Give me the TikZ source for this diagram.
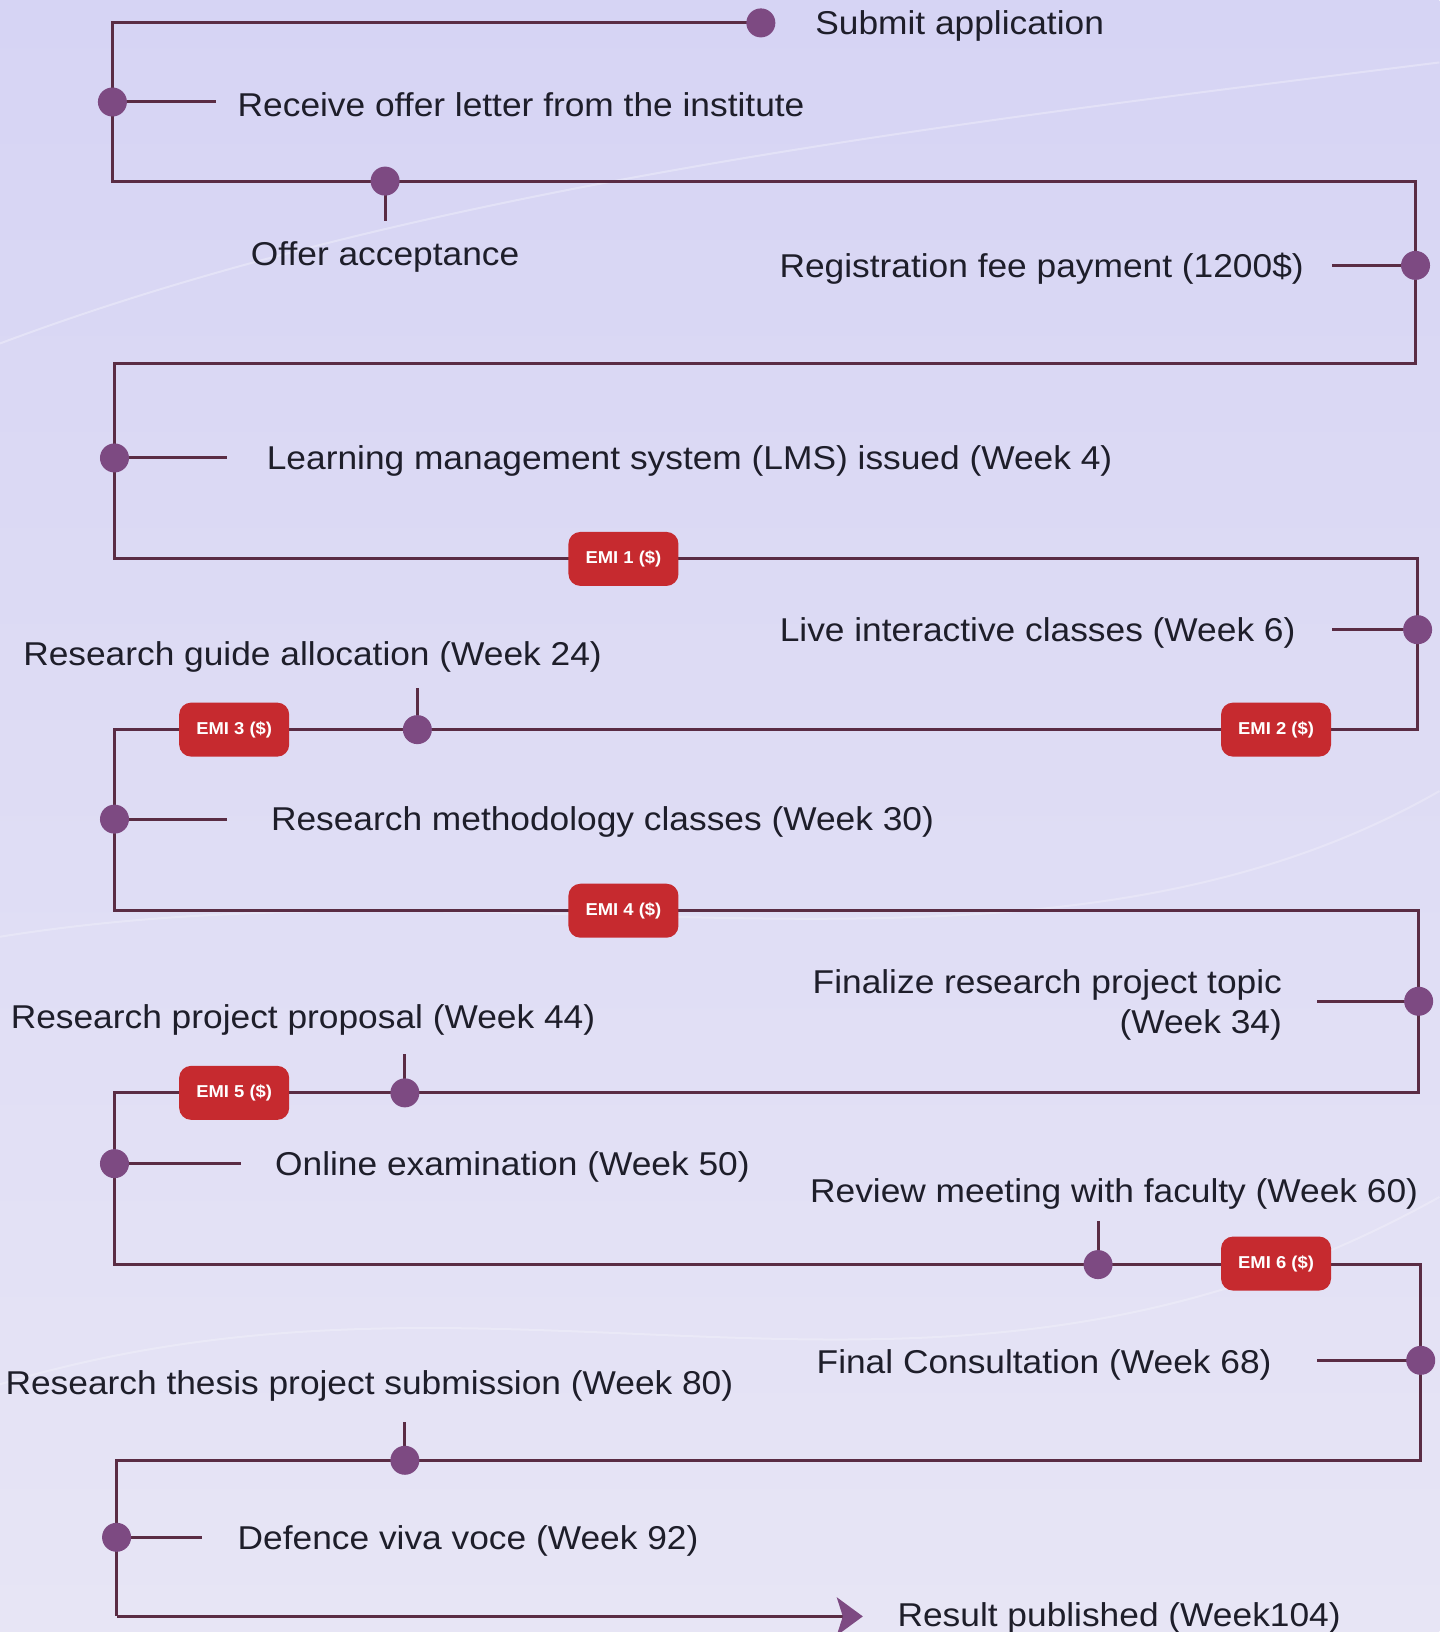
\documentclass[tikz,border=0pt]{standalone}
\usepackage{fontspec}
\setmainfont{Liberation Sans}[FakeStretch=1.07]
\usetikzlibrary{arrows.meta}
\definecolor{bgtop}{HTML}{D6D4F4}
\definecolor{bgbot}{HTML}{E7E5F5}
\definecolor{linec}{HTML}{5A2C44}
\definecolor{dotc}{HTML}{7D4A82}
\definecolor{emic}{HTML}{C62A2F}
\definecolor{txtc}{HTML}{1E1E2A}
\tikzset{
  flow/.style={draw=linec, line width=1.5pt, line join=miter},
  dotn/.style={circle, fill=dotc, inner sep=0pt, minimum size=14.5pt},
  emi/.style={rectangle, rounded corners=6pt, fill=emic, text=white, font=\bfseries\fontsize{8.6}{10}\selectfont, minimum width=55pt, minimum height=27pt, inner sep=0pt},
  lbl/.style={text=txtc, font=\fontsize{16.5}{20}\selectfont, inner sep=0pt, yshift=-1.6pt},
}
\begin{document}
\begin{tikzpicture}[x=0.52025pt, y=-0.52025pt]
\useasboundingbox (0,0) rectangle (1383,1568);
\fill[top color=bgtop, bottom color=bgbot] (0,0) rectangle (1383,1568);
% faint decorative swooshes
\draw[white, opacity=0.3, line width=1pt] (0,330) .. controls (400,180) and (900,120) .. (1383,60);
\draw[white, opacity=0.25, line width=1pt] (0,900) .. controls (500,820) and (1000,980) .. (1383,760);
\draw[white, opacity=0.25, line width=1pt] (0,1330) .. controls (500,1180) and (900,1420) .. (1383,1150);

% corners
\coordinate (k1) at (108,22);
\coordinate (k2) at (108,174);
\coordinate (k3) at (1360,174);
\coordinate (k4) at (1360,349);
\coordinate (k5) at (110,349);
\coordinate (k6) at (110,537);
\coordinate (k7) at (1362,537);
\coordinate (k8) at (1362,701);
\coordinate (k9) at (110,701);
\coordinate (k10) at (110,875);
\coordinate (k11) at (1363,875);
\coordinate (k12) at (1363,1050);
\coordinate (k13) at (110,1050);
\coordinate (k14) at (110,1215);
\coordinate (k15) at (1365,1215);
\coordinate (k16) at (1365,1403);
\coordinate (k17) at (112,1403);
\coordinate (k18) at (112,1553);
\coordinate (kend) at (829,1553);

% tick ends
\coordinate (t2) at (208,98);
\coordinate (t3) at (370,212);
\coordinate (t4) at (1280,255);
\coordinate (t5) at (218,440);
\coordinate (t6) at (1280,605);
\coordinate (t7) at (401,661);
\coordinate (t8) at (218,787);
\coordinate (t9) at (1265,962);
\coordinate (t10) at (389,1013);
\coordinate (t11) at (232,1118);
\coordinate (t12) at (1055,1173);
\coordinate (t13) at (1265,1307);
\coordinate (t14) at (389,1366);
\coordinate (t15) at (194,1477);

% dot positions
\coordinate (p1) at (731,22);
\coordinate (p2) at (108,98);
\coordinate (p3) at (370,174);
\coordinate (p4) at (1360,255);
\coordinate (p5) at (110,440);
\coordinate (p6) at (1362,605);
\coordinate (p7) at (401,701);
\coordinate (p8) at (110,787);
\coordinate (p9) at (1363,962);
\coordinate (p10) at (389,1050);
\coordinate (p11) at (110,1118);
\coordinate (p12) at (1055,1215);
\coordinate (p13) at (1365,1307);
\coordinate (p14) at (389,1403);
\coordinate (p15) at (112,1477);

% main flow
\draw[flow] (p1) -- (k1) -- (k2) -- (k3) -- (k4) -- (k5) -- (k6) -- (k7) -- (k8) -- (k9) -- (k10) -- (k11) -- (k12) -- (k13) -- (k14) -- (k15) -- (k16) -- (k17) -- (k18);
\draw[flow, -{Stealth[length=13pt, width=19pt, inset=3pt, color=dotc]}] (k18) -- (kend);

% ticks
\foreach \i in {2,...,15} { \draw[flow] (p\i) -- (t\i); }

% dots
\foreach \i in {1,...,15} { \node[dotn] (d\i) at (p\i) {}; }

% EMI boxes
\node[emi] (e1) at (599,537) {EMI 1 (\$)};
\node[emi] (e2) at (1226,701) {EMI 2 (\$)};
\node[emi] (e3) at (225,701) {EMI 3 (\$)};
\node[emi] (e4) at (599,875) {EMI 4 (\$)};
\node[emi] (e5) at (225,1050) {EMI 5 (\$)};
\node[emi] (e6) at (1226,1214) {EMI 6 (\$)};

% labels
\node[lbl, anchor=west] (l1) at (783,22) {Submit application};
\node[lbl, anchor=west] (l2) at (228,98) {Receive offer letter from the institute};
\node[lbl] (l3) at (370,244) {Offer acceptance};
\node[lbl, anchor=east] (l4) at (1253,255) {Registration fee payment (1200\$)};
\node[lbl, anchor=west] (l5) at (256,440) {Learning management system (LMS) issued (Week 4)};
\node[lbl, anchor=east] (l6) at (1245,605) {Live interactive classes (Week 6)};
\node[lbl, anchor=west] (l7) at (22,628) {Research guide allocation (Week 24)};
\node[lbl, anchor=west] (l8) at (260,787) {Research methodology classes (Week 30)};
\node[lbl, anchor=east, align=right] (l9) at (1232,962) {Finalize research project topic\\(Week 34)};
\node[lbl, anchor=west] (l10) at (10,977) {Research project proposal (Week 44)};
\node[lbl, anchor=west] (l11) at (264,1118) {Online examination (Week 50)};
\node[lbl, anchor=west] (l12) at (778,1144) {Review meeting with faculty (Week 60)};
\node[lbl, anchor=east] (l13) at (1222,1308) {Final Consultation (Week 68)};
\node[lbl, anchor=west] (l14) at (5,1329) {Research thesis project submission (Week 80)};
\node[lbl, anchor=west] (l15) at (228,1477) {Defence viva voce (Week 92)};
\node[lbl, anchor=west] (l16) at (862,1551) {Result published (Week104)};
\end{tikzpicture}
\end{document}
